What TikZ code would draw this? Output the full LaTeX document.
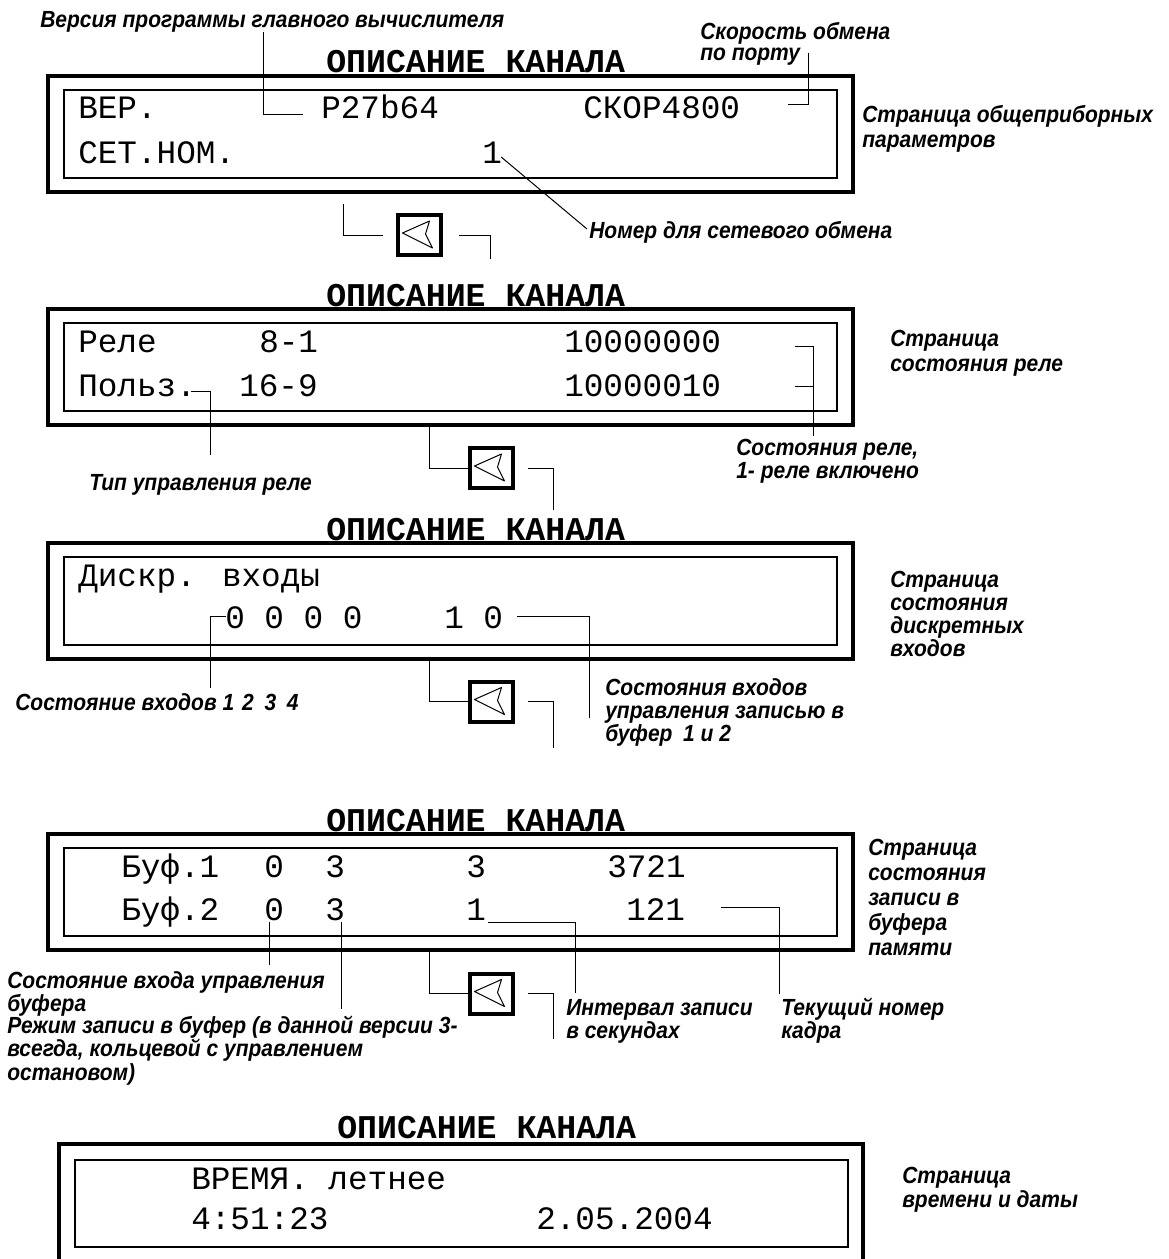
\documentclass[tikz,border=0pt]{standalone}
\usepackage{fontspec}
\newfontfamily\lcdfont{Liberation Mono}
\newfontfamily\notefont{Liberation Sans}[FakeStretch=0.9]
\usetikzlibrary{positioning,calc}

\tikzset{
	lcd/.style={font=\lcdfont\fontsize{24.5}{28}\selectfont, anchor=base west, inner sep=0pt},
	ttl/.style={font=\lcdfont\bfseries\fontsize{24.9}{28}\selectfont, anchor=base west, inner sep=0pt},
	note/.style={font=\notefont\bfseries\itshape\fontsize{17.5}{17.25}\selectfont, anchor=base west, inner sep=0pt, align=left},
	notewide/.style={note, font=\notefont\bfseries\itshape\fontsize{17.5}{18.75}\selectfont},
	notetight/.style={note, font=\notefont\bfseries\itshape\fontsize{17.5}{15.75}\selectfont},
	outerframe/.style={line width=3pt},
	innerframe/.style={line width=0.9pt},
	lead/.style={line width=0.75pt},
	key/.style={draw, line width=3pt, minimum width=32.25pt, minimum height=30pt, inner sep=0pt},
}

\begin{document}
\begin{tikzpicture}[x=0.75pt, y=-0.75pt]
	\useasboundingbox (0,0) rectangle (1168,1259);
	
	% display frames with titles
	\foreach \t in {76,309,543,834} {
		\draw[outerframe] (48,\t) rectangle (853,\t+116);
		\draw[innerframe] (64,\t+14) rectangle (837,\t+102);
		\node[ttl] (ttl\t) at (326,\t-3) {ОПИСАНИЕ КАНАЛА};
	}
	\draw[outerframe] (59,1144) rectangle (863,1290);
	\draw[innerframe] (75,1160) rectangle (848,1247);
	\node[ttl] (ttl5) at (337,1138) {ОПИСАНИЕ КАНАЛА};
	
	% page 1
	\node[lcd] (ver) at (78,119) {ВЕР.};
	\node[lcd] (verval) at (321,119) {P27b64};
	\node[lcd] (baud) at (583,119) {СКОР4800};
	\node[lcd] (net) at (78,163) {СЕТ.НОМ.};
	\node[lcd] (netval) at (482,163) {1};
	
	\node[note] (lver) at (40,28) {Версия программы главного вычислителя};
	\node[notetight] (lbaud) at (700,61) {Скорость обмена\\по порту};
	\node[notewide] (lpage1) at (862,148) {Страница общеприборных\\параметров};
	\node[note] (lnet) at (589,238) {Номер для сетевого обмена};
	
	\draw[lead] (263,32) |- ($(verval.base west)+(-18,-4)$);
	\draw[lead] (808,53) |- (788,105);
	\draw[lead] ($(netval.base east)+(-1,-6)$) -- ($(lnet.base west)+(-2,-9)$);
	
	% page 2
	\node[lcd] (rel) at (78,352) {Реле};
	\node[lcd] (relrng) at (259,352) {8-1};
	\node[lcd] (relbits) at (564,352) {10000000};
	\node[lcd] (usr) at (78,396) {Польз.};
	\node[lcd] (usrrng) at (239,396) {16-9};
	\node[lcd] (usrbits) at (564,396) {10000010};
	
	\node[notewide] (lpage2) at (890,371) {Страница\\состояния реле};
	\node[note] (lrel) at (736,478) {Состояния реле,\\1- реле включено};
	\node[note] (ltype) at (89,490) {Тип управления реле};
	
	\draw[lead] (795,346) -| (813,436);
	\draw[lead] (795,386) -- (813,386);
	\draw[lead] (191,391) -| (210,455);
	
	% page 3
	\node[lcd] (din) at (78,586) {Дискр. входы};
	\node[lcd] (dinbits) at (225,628) {0 0 0 0};
	\node[lcd] (dinctl) at (444,628) {1 0};
	
	\node[note] (lpage3) at (890,656) {Страница\\состояния\\дискретных\\входов};
	\node[note] (lin) at (15,710) {Состояние входов 1\hspace{6pt}2\hspace{8pt}3\hspace{8pt}4};
	\node[note] (lctl) at (605,741) {Состояния входов\\управления записью в\\буфер\hspace{8pt}1 и 2};
	
	\draw[lead] ($(dinbits.base west)+(1,-12)$) -| (210,688);
	\draw[lead] ($(dinctl.base east)+(14,-12)$) -| (589,718);
	
	% page 4
	\node[lcd] (b1) at (121,877) {Буф.1};
	\node[lcd] (b1in) at (264,877) {0};
	\node[lcd] (b1mode) at (325,877) {3};
	\node[lcd] (b1int) at (466,877) {3};
	\node[lcd] (b1frm) at (607,877) {3721};
	\node[lcd] (b2) at (121,920) {Буф.2};
	\node[lcd] (b2in) at (264,920) {0};
	\node[lcd] (b2mode) at (325,920) {3};
	\node[lcd] (b2int) at (466,920) {1};
	\node[lcd] (b2frm) at (626,920) {121};
	
	\node[notewide] (lpage4) at (868,955) {Страница\\состояния\\записи в\\буфера\\памяти};
	\node[note] (lbufin) at (7,1011) {Состояние входа управления\\буфера};
	\node[notetight] (lmode) at (7,1080) {Режим записи в буфер (в данной версии 3-\\всегда, кольцевой с управлением\\остановом)};
	\node[note] (lint) at (566,1038) {Интервал записи\\в секундах};
	\node[note] (lfrm) at (781,1038) {Текущий номер\\кадра};
	
	\draw[lead] (269,922) -- (269,965);
	\draw[lead] (341,922) -- (341,1009);
	\draw[lead] (488,922) -| (575,993);
	\draw[lead] (721,907) -| (779,994);
	
	% page 5
	\node[lcd] (tm) at (191,1189) {ВРЕМЯ. летнее};
	\node[lcd] (tmval) at (191,1229) {4:51:23};
	\node[lcd] (dtval) at (536,1229) {2.05.2004};
	\node[notetight] (lpage5) at (902,1207) {Страница\\времени и даты};
	
	% step keys between pages
	\node[key] (k1) at (419.5,235) {};
	\node[key] (k2) at (491.5,468) {};
	\node[key] (k3) at (491.5,701.5) {};
	\node[key] (k4) at (491.5,993.5) {};
	\foreach \k in {k1,k2,k3,k4}
		\draw[lead, line join=round] ($(\k)+(-17,-2)$) -- ($(\k)+(10,-14)$) -- ($(\k)+(6,-1)$) -- ($(\k)+(13,13)$) -- cycle;
	
	\draw[lead] (343,204) |- ($(k1.west)+(-13,0)$);
	\draw[lead] ($(k1.east)+(16,0)$) -| (490,259);
	\draw[lead] (429,425) |- (k2.west);
	\draw[lead] ($(k2.east)+(13,0)$) -| (553,510);
	\draw[lead] (429,659) |- (k3.west);
	\draw[lead] ($(k3.east)+(13,0)$) -| (553,748);
	\draw[lead] (429,950) |- (k4.west);
	\draw[lead] ($(k4.east)+(13,0)$) -| (553,1039);
\end{tikzpicture}
\end{document}
